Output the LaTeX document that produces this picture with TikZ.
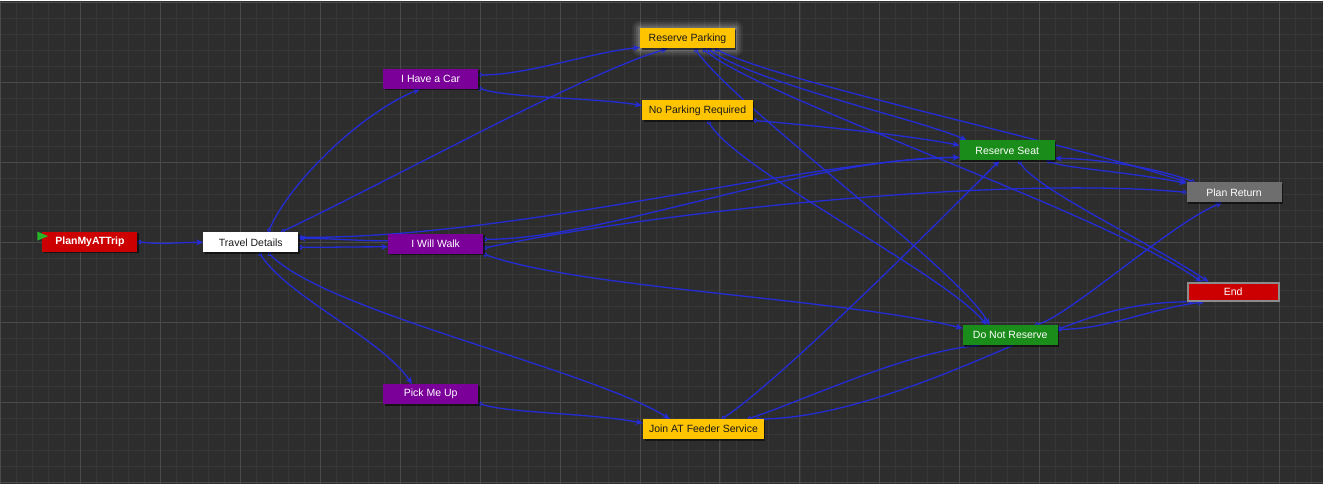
\documentclass[tikz,border=0pt]{standalone}
\usepackage{fontspec}
\setmainfont{Liberation Sans}
\usetikzlibrary{arrows.meta,calc,shadows}
\definecolor{bgc}{RGB}{45,45,45}
\definecolor{gridminor}{RGB}{55,55,55}
\definecolor{gridmajor}{RGB}{74,74,74}
\definecolor{edgeblue}{RGB}{36,44,214}
\definecolor{nred}{RGB}{204,0,0}
\definecolor{npurple}{RGB}{122,0,153}
\definecolor{nyellow}{RGB}{255,196,0}
\definecolor{ngreen}{RGB}{26,140,26}
\definecolor{ngray}{RGB}{110,110,110}
\definecolor{nborder}{RGB}{140,140,140}
\definecolor{startgreen}{RGB}{40,180,40}
\definecolor{darktext}{RGB}{25,25,25}
\pgfdeclarelayer{bg}
\pgfdeclarelayer{edge}
\pgfsetlayers{bg,edge,main}
\begin{document}
\begin{tikzpicture}[x=1pt,y=-1pt,
  base/.style={minimum height=20pt, inner sep=0pt, font=\fontsize{10.5}{12}\selectfont,
    drop shadow={shadow xshift=1.5pt, shadow yshift=-1.5pt, fill=black, opacity=0.55}},
  w95/.style={minimum width=95pt},
  redn/.style={base, w95, fill=nred, text=white},
  whiten/.style={base, w95, fill=white, text=darktext},
  purplen/.style={base, w95, fill=npurple, text=white},
  yellown/.style={base, fill=nyellow, text=darktext},
  greenn/.style={base, w95, fill=ngreen, text=white},
  grayn/.style={base, w95, fill=ngray, text=white},
  endn/.style={base, minimum width=91pt, minimum height=18pt, fill=nred, text=white, draw=nborder, line width=2pt},
  wire/.style={draw=edgeblue, line width=1.3pt},
  link/.style={wire, {Circle[open,length=4.5pt,width=4.5pt,line width=1pt]}-{Stealth[length=7pt,width=6pt]}},
  linkno/.style={wire, -{Stealth[length=7pt,width=6pt]}},
  linkna/.style={wire, {Circle[open,length=4.5pt,width=4.5pt,line width=1pt]}-},
  linkcc/.style={wire, {Circle[open,length=4.5pt,width=4.5pt,line width=1pt]}-{Circle[open,length=4.5pt,width=4.5pt,line width=1pt]}},
  minor/.style={draw=gridminor, line width=0.8pt},
  major/.style={draw=gridmajor, line width=1pt}
]
% background and grid
\begin{pgfonlayer}{bg}
\fill[bgc] (0,0) rectangle (1323,484);
\foreach \x in {0,16,...,1322} \draw[minor] (\x,0) -- (\x,484);
\foreach \y in {2,18,...,484} \draw[minor] (0,\y) -- (1323,\y);
\foreach \x in {0,80,...,1322} \draw[major] (\x,0) -- (\x,484);
\foreach \y in {2,82,...,484} \draw[major] (0,\y) -- (1323,\y);
\end{pgfonlayer}
\useasboundingbox (0,0) rectangle (1323,484);

% nodes
\node[redn, font=\fontsize{10.5}{12}\selectfont\bfseries] (plan) at (89.5,241.5) {PlanMyATTrip};
\node[whiten] (td) at (250.5,242) {Travel Details};
\node[purplen] (car) at (430.5,78.5) {I Have a Car};
\node[yellown, minimum width=95pt] (rp) at (687.5,38) {Reserve Parking};
\node[yellown, minimum width=111pt] (npr) at (697.5,110) {No Parking Required};
\node[greenn] (rs) at (1007.5,150) {Reserve Seat};
\node[grayn] (pr) at (1234.5,192) {Plan Return};
\node[purplen] (walk) at (435.5,243.5) {I Will Walk};
\node[endn] (end) at (1233.5,291.5) {End};
\node[greenn] (dnr) at (1010.5,335) {Do Not Reserve};
\node[purplen] (pmu) at (430.5,394) {Pick Me Up};
\node[yellown, minimum width=121pt] (jat) at (703.5,429) {Join AT Feeder Service};

% start marker
\fill[startgreen] ($(plan.north west)+(-5,0)$) -- ($(plan.north west)+(6,4.5)$) -- ($(plan.north west)+(-5,9)$) -- cycle;

\begin{pgfonlayer}{edge}
% glow around Reserve Parking
\foreach \g/\o in {8/0.05,6/0.07,4/0.09,2/0.13}
  \fill[white,opacity=\o,rounded corners=\g pt] ($(rp.north west)+(-\g,-\g)$) rectangle ($(rp.south east)+(\g,\g)$);

\draw[link] (plan.east) .. controls +(30,3) and +(-30,0) .. (td.west);
\draw[link] ($(td.north west)+(65,0)$) .. controls +(25,-55) and +(-55,22) .. ($(car.south west)+(37,0)$);
\draw[link] ($(td.north west)+(78,0)$) .. controls +(119,-57) and +(-78,22) .. ($(rp.south west)+(28,0)$);
\draw[link] ($(td.east)+(0,5)$) .. controls +(30,0) and +(-30,0) .. ($(walk.west)+(0,3)$);
\draw[linkno] ($(walk.west)+(0,-3)$) .. controls +(-30,0) and +(30,0) .. ($(td.east)+(0,-4)$);
\draw[link] ($(td.east)+(0,-5)$) .. controls +(222,1) and +(-160,3) .. ($(rs.west)+(0,7)$);
\draw[link] ($(walk.east)+(0,-4.5)$) .. controls +(120,0) and +(-150,0) .. ($(rs.west)+(0,7)$);
\draw[linkcc] ($(walk.east)+(0,4.5)$) .. controls +(167,-36) and +(-187,-17) .. (pr.west);
\draw[link] (walk.south east) .. controls +(100,35) and +(-120,-30) .. ($(dnr.west)+(0,-7)$);
\draw[link] ($(td.south west)+(56,0)$) .. controls +(30,45) and +(-30,-45) .. ($(pmu.north west)+(29,0)$);
\draw[link] ($(td.south west)+(65,0)$) .. controls +(60,60) and +(-80,-50) .. ($(jat.north west)+(27,0)$);
\draw[link] ($(car.east)+(0,-4)$) .. controls +(50,0) and +(-50,5) .. ($(rp.west)+(0,9)$);
\draw[link] ($(car.east)+(0,9)$) .. controls +(30,10) and +(-50,-8) .. ($(npr.west)+(0,-5)$);
\draw[link] ($(rp.south west)+(68,0)$) .. controls +(50,35) and +(-45,-20) .. ($(rs.north west)+(7,0)$);
\draw[link] ($(rp.south west)+(75,0)$) .. controls +(70,35) and +(-120,-40) .. (pr.north west);
\draw[link] ($(rp.south west)+(63,0)$) .. controls +(60,50) and +(-100,-70) .. ($(end.north west)+(15,0)$);
\draw[link] ($(rp.south west)+(55,0)$) .. controls +(45,62) and +(-30,-55) .. ($(dnr.north west)+(27,0)$);
\draw[link] ($(npr.south west)+(66,0)$) .. controls +(30,50) and +(-40,-50) .. ($(dnr.north west)+(24,0)$);
\draw[link] ($(npr.east)+(0,10)$) .. controls +(60,5) and +(-50,-10) .. ($(rs.west)+(0,-5)$);
\draw[link] ($(rs.south west)+(59,0)$) .. controls +(20,30) and +(-60,-40) .. ($(end.north west)+(22,0)$);
\draw[link] ($(rs.south east)+(-8,0)$) .. controls +(20,8) and +(-60,-12) .. ($(pr.west)+(0,-9)$);
\draw[link] ($(pr.north west)+(8,0)$) .. controls +(-40,-15) and +(40,0) .. ($(rs.east)+(0,8)$);
\draw[link] ($(jat.north west)+(79,0)$) .. controls +(60,-40) and +(-60,60) .. ($(rs.south west)+(40,0)$);
\draw[linkna] ($(jat.north west)+(105,0)$) .. controls +(60,-20) and +(-70,5) .. ($(dnr.south west)+(17,0)$);
\draw[linkna] ($(jat.north west)+(113,0)$) .. controls +(80,0) and +(-80,35) .. ($(dnr.south west)+(50,0)$);
\draw[link] ($(pmu.east)+(0,9)$) .. controls +(30,10) and +(-50,-10) .. ($(jat.west)+(0,-6)$);
\draw[link] ($(dnr.north east)+(-23,0)$) .. controls +(35,-10) and +(-50,20) .. ($(pr.south west)+(36,0)$);
\draw[link] ($(dnr.east)+(0,-6)$) .. controls +(40,-15) and +(-60,0) .. ($(end.south west)+(8,0)$);
\draw[link] ($(dnr.east)+(0,-6)$) .. controls +(50,0) and +(-60,8) .. ($(end.south west)+(18,0)$);
\end{pgfonlayer}
\end{tikzpicture}
\end{document}
